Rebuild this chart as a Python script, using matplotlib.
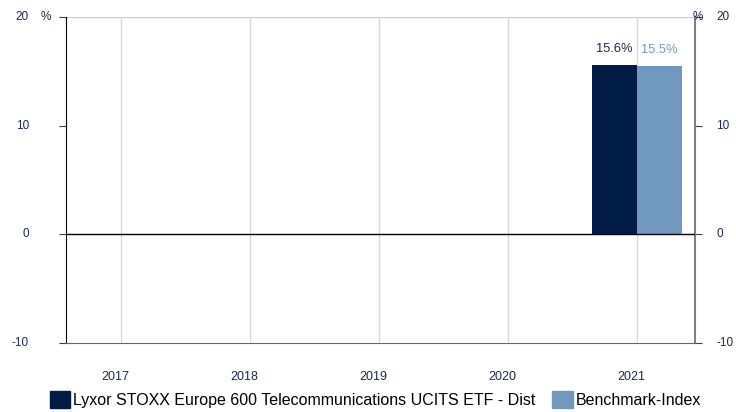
import matplotlib

matplotlib.use("Agg")
import matplotlib.pyplot as plt
from matplotlib.patches import Patch
from matplotlib.transforms import ScaledTranslation, blended_transform_factory

plt.rcParams["font.family"] = ["Liberation Sans", "DejaVu Sans"]

years = ["2017", "2018", "2019", "2020", "2021"]
fund = [None, None, None, None, 15.6]
bench = [None, None, None, None, 15.5]
yticks = [-10, 0, 10, 20]
fund_name = "Lyxor STOXX Europe 600 Telecommunications UCITS ETF - Dist"
bench_name = "Benchmark-Index"

NAVY = "#001c46"
LIGHT = "#7199bf"
TXT = "#1a2a4a"

fig = plt.figure(figsize=(7.36, 4.12), dpi=100)
ax = fig.add_axes([66 / 736, 1 - 343 / 412, (695 - 66) / 736, (343 - 17) / 412])

w = 0.35
for i, (f, b) in enumerate(zip(fund, bench)):
    if f is not None:
        ax.bar(i - w / 2, f, width=w, color=NAVY, zorder=3)
        ax.text(i - w / 2, f + 0.9, f"{f:.1f}%", ha="center", va="bottom", fontsize=9.3, color=TXT)
    if b is not None:
        ax.bar(i + w / 2, b, width=w, color=LIGHT, zorder=3)
        ax.text(i + w / 2, b + 0.9, f"{b:.1f}%", ha="center", va="bottom", fontsize=9.3, color=LIGHT)

ax.set_xlim(-0.43, 4.45)
ax.set_ylim(-10, 20)
ax.set_xticks(range(len(years)))
ax.set_xticklabels(years)
ax.set_yticks(yticks)
ax.grid(axis="x", color="#d9d9d9", linewidth=1, zorder=0)
ax.axhline(0, color="black", linewidth=1, zorder=4)
ax.axhline(20, color="#cccccc", linewidth=1, zorder=1)

ax.tick_params(axis="x", length=0, pad=20, labelsize=9, labelcolor=TXT)
# year labels sit a few pixels left of their grid lines in the original
shift = ScaledTranslation(-6 / 100, 0, fig.dpi_scale_trans)
for lbl in ax.get_xticklabels():
    lbl.set_transform(lbl.get_transform() + shift)

ax.tick_params(axis="y", length=5, color="#404040", left=True, right=True,
               labelleft=False, labelright=False)

# tick labels placed by hand, like the original (number + "%" on the top row)
tr = blended_transform_factory(ax.transAxes, ax.transData)
for v in yticks:
    lab = f"{v}"
    ax.text(-0.0588, v, lab, transform=tr, ha="right", va="center", fontsize=8.5, color=TXT)
    ax.text(1.0334, v, lab, transform=tr, ha="left", va="center", fontsize=8.5, color=TXT,
            clip_on=False)
ax.text(-0.032, 20, "%", transform=tr, ha="center", va="center", fontsize=8.5, color=TXT)
ax.text(1.0048, 20, "%", transform=tr, ha="center", va="center", fontsize=8.5, color=TXT)

ax.spines["top"].set_visible(False)
ax.spines["left"].set_color("black")
ax.spines["right"].set_color("#808080")
ax.spines["right"].set_linewidth(1.5)
ax.spines["bottom"].set_color("#5a6a80")

handles = [Patch(color=NAVY), Patch(color=LIGHT)]
fig.legend(handles, [fund_name, bench_name], loc="lower center", bbox_to_anchor=(0.51, -0.025),
           ncol=2, frameon=False, fontsize=11.5, handlelength=1.3, handleheight=1.3,
           handletextpad=0.2, columnspacing=1.0)

fig.savefig("out.png", dpi=100)
